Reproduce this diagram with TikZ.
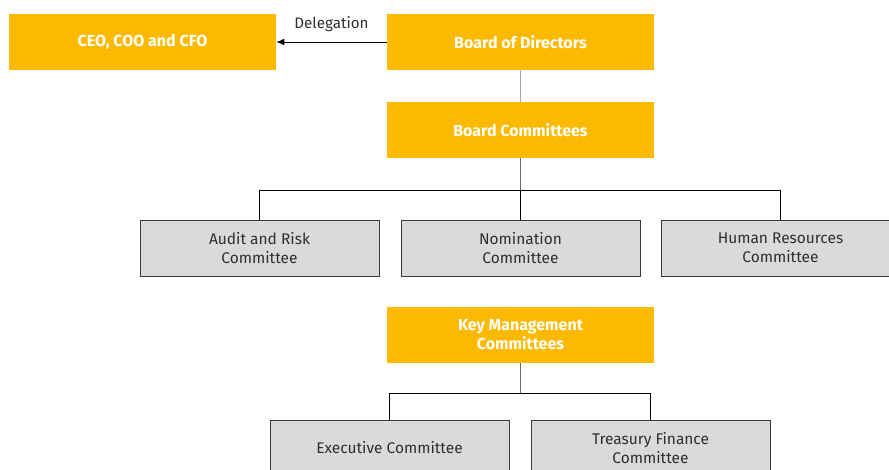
\documentclass[tikz,border=0pt]{standalone}
\usepackage{fontspec}
\setmainfont{Fira Sans}
\usetikzlibrary{arrows.meta}
\definecolor{orgyellow}{HTML}{FBBA00}
\definecolor{orggray}{HTML}{D9DADB}
\definecolor{orgborder}{HTML}{3A3A3A}
\definecolor{orgtext}{HTML}{2E2E2E}
\tikzset{
  ybox/.style={fill=orgyellow, text=white, font=\fontsize{12}{14.25}\selectfont\bfseries,
    minimum width=200.25pt, minimum height=42pt, inner sep=0pt, align=center},
  gbox/.style={fill=orggray, draw=orgborder, line width=0.6pt, text=orgtext,
    font=\fontsize{11.6}{14.25}\selectfont, minimum width=179.25pt, minimum height=42pt,
    inner sep=0pt, align=center},
  conn/.style={draw=black, line width=0.6pt},
}
\begin{document}
\begin{tikzpicture}[x=0.75pt, y=-0.75pt]
\useasboundingbox (0,0) rectangle (889,470);
\clip (0,0) rectangle (889,470);
\node[ybox] (ceo) at (142.5,42) {CEO, COO and CFO};
\node[ybox] (board) at (520.5,42) {Board of Directors};
\node[ybox] (bc) at (520.5,130) {Board Committees};
\node[gbox] (audit) at (259.5,248) {Audit and Risk\\Committee};
\node[gbox] (nom) at (520.5,248) {Nomination\\Committee};
\node[gbox] (hr) at (780.5,248) {Human Resources\\Committee};
\node[ybox] (km) at (520.5,335) {Key Management\\Committees};
\node[gbox] (exec) at (389.5,448) {Executive Committee};
\node[gbox] (treas) at (650.5,448) {Treasury Finance\\Committee};
\draw[conn, -{Latex[length=6pt,width=5pt]}] (board.west) -- (ceo.east)
  node[midway, above=4pt, text=orgtext, font=\fontsize{11.4}{13}\selectfont] {Delegation};
\draw[draw=black!35, line width=0.8pt] (board.south) -- (bc.north);
\coordinate (bcj) at ([yshift=-24pt]bc.south);
\draw[draw=black!60, line width=0.8pt] (bc.south) -- (bcj);
\draw[conn] (bcj) -| (audit.north);
\draw[conn] (bcj) -| (hr.north);
\draw[conn] (bcj) -- (nom.north);
\coordinate (kmj) at ([yshift=-22.5pt]km.south);
\draw[draw=black!60, line width=0.8pt] (km.south) -- (kmj);
\draw[conn] (kmj) -| (exec.north);
\draw[conn] (kmj) -| (treas.north);
\end{tikzpicture}
\end{document}
